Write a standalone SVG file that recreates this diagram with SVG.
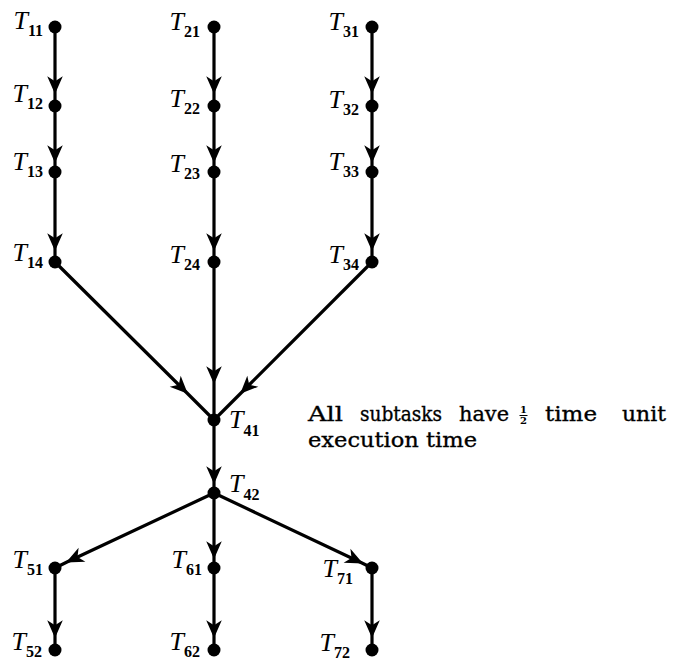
<svg xmlns="http://www.w3.org/2000/svg" width="681" height="662" viewBox="0 0 681 662">
<defs>
<marker id="ah" markerUnits="userSpaceOnUse" markerWidth="20" markerHeight="20" refX="0" refY="0" viewBox="-16 -8 18 16" orient="auto" overflow="visible">
<path d="M1,0 L-15,-7 L-10.5,0 L-15,7 Z" fill="#000"/>
</marker>
<style>
.e{fill:none;stroke:#000;stroke-width:3.2;marker-mid:url(#ah)}
.n{fill:#000}
.l{font-family:"Liberation Serif","Times New Roman",serif;font-style:italic;font-size:26px;fill:#000}
.s{font-style:normal;font-weight:bold;font-size:16px}
.p{font-family:"DejaVu Serif","Liberation Serif",serif;font-size:21px;fill:#000;stroke:#000;stroke-width:0.35}
.f{font-family:"DejaVu Serif","Liberation Serif",serif;font-size:10px;font-weight:bold;fill:#000}
</style>
</defs>
<rect width="681" height="662" fill="#fff"/>
<g id="connectors">
<path class="e" d="M55,27 L55,93 L55,106"/>
<path class="e" d="M55,106 L55,162 L55,172"/>
<path class="e" d="M55,172 L55,250 L55,262"/>
<path class="e" d="M214,27 L214,93 L214,106"/>
<path class="e" d="M214,106 L214,162 L214,172"/>
<path class="e" d="M214,172 L214,250 L214,262"/>
<path class="e" d="M372,27 L372,93 L372,106"/>
<path class="e" d="M372,106 L372,162 L372,172"/>
<path class="e" d="M372,172 L372,250 L372,262"/>
<path class="e" d="M55,262 L187,393 L214,420"/>
<path class="e" d="M214,262 L214,383 L214,420"/>
<path class="e" d="M372,262 L241,393 L214,420"/>
<path class="e" d="M214,420 L214,483 L214,493"/>
<path class="e" d="M214,493 L67,562 L55,568"/>
<path class="e" d="M214,493 L214,558 L214,568"/>
<path class="e" d="M214,493 L362,563 L372,568"/>
<path class="e" d="M55,568 L55,637 L55,650"/>
<path class="e" d="M214,568 L214,637 L214,650"/>
<path class="e" d="M372,568 L372,637 L372,650"/>
</g>
<g id="T11"><circle class="n" cx="55" cy="27" r="6.5"/><text class="l" x="43" y="29" text-anchor="end">T<tspan class="s" dy="7">11</tspan></text></g>
<g id="T12"><circle class="n" cx="55" cy="106" r="6.5"/><text class="l" x="43" y="102" text-anchor="end">T<tspan class="s" dy="7">12</tspan></text></g>
<g id="T13"><circle class="n" cx="55" cy="172" r="6.5"/><text class="l" x="43" y="170" text-anchor="end">T<tspan class="s" dy="7">13</tspan></text></g>
<g id="T14"><circle class="n" cx="55" cy="262" r="6.5"/><text class="l" x="43" y="261" text-anchor="end">T<tspan class="s" dy="7">14</tspan></text></g>
<g id="T21"><circle class="n" cx="214" cy="27" r="6.5"/><text class="l" x="200" y="30" text-anchor="end">T<tspan class="s" dy="7">21</tspan></text></g>
<g id="T22"><circle class="n" cx="214" cy="106" r="6.5"/><text class="l" x="200" y="107" text-anchor="end">T<tspan class="s" dy="7">22</tspan></text></g>
<g id="T23"><circle class="n" cx="214" cy="172" r="6.5"/><text class="l" x="200" y="172" text-anchor="end">T<tspan class="s" dy="7">23</tspan></text></g>
<g id="T24"><circle class="n" cx="214" cy="262" r="6.5"/><text class="l" x="200" y="263" text-anchor="end">T<tspan class="s" dy="7">24</tspan></text></g>
<g id="T31"><circle class="n" cx="372" cy="27" r="6.5"/><text class="l" x="359" y="30" text-anchor="end">T<tspan class="s" dy="7">31</tspan></text></g>
<g id="T32"><circle class="n" cx="372" cy="106" r="6.5"/><text class="l" x="359" y="108" text-anchor="end">T<tspan class="s" dy="7">32</tspan></text></g>
<g id="T33"><circle class="n" cx="372" cy="172" r="6.5"/><text class="l" x="359" y="170" text-anchor="end">T<tspan class="s" dy="7">33</tspan></text></g>
<g id="T34"><circle class="n" cx="372" cy="262" r="6.5"/><text class="l" x="359" y="263" text-anchor="end">T<tspan class="s" dy="7">34</tspan></text></g>
<g id="T41"><circle class="n" cx="214" cy="420" r="6.5"/><text class="l" x="229" y="428">T<tspan class="s" dy="8">41</tspan></text></g>
<g id="T42"><circle class="n" cx="214" cy="493" r="6.5"/><text class="l" x="229" y="492">T<tspan class="s" dy="8">42</tspan></text></g>
<g id="T51"><circle class="n" cx="55" cy="568" r="6.5"/><text class="l" x="43" y="568" text-anchor="end">T<tspan class="s" dy="7">51</tspan></text></g>
<g id="T52"><circle class="n" cx="55" cy="650" r="6.5"/><text class="l" x="42" y="650" text-anchor="end">T<tspan class="s" dy="7">52</tspan></text></g>
<g id="T61"><circle class="n" cx="214" cy="568" r="6.5"/><text class="l" x="202" y="568" text-anchor="end">T<tspan class="s" dy="7">61</tspan></text></g>
<g id="T62"><circle class="n" cx="214" cy="650" r="6.5"/><text class="l" x="200" y="650" text-anchor="end">T<tspan class="s" dy="7">62</tspan></text></g>
<g id="T71"><circle class="n" cx="372" cy="568" r="6.5"/><text class="l" x="353" y="577" text-anchor="end">T<tspan class="s" dy="7">71</tspan></text></g>
<g id="T72"><circle class="n" cx="372" cy="650" r="6.5"/><text class="l" x="350" y="651" text-anchor="end">T<tspan class="s" dy="7">72</tspan></text></g>
<g id="note">
<text class="p" x="308" y="421" textLength="35" lengthAdjust="spacingAndGlyphs">All</text>
<text class="p" x="360" y="421" textLength="82" lengthAdjust="spacingAndGlyphs">subtasks</text>
<text class="p" x="459" y="421" textLength="50" lengthAdjust="spacingAndGlyphs">have</text>
<text class="f" x="523.5" y="413" text-anchor="middle">1</text>
<line x1="519.5" y1="415.5" x2="527.5" y2="415.5" stroke="#000" stroke-width="1"/>
<text class="f" x="523.5" y="424" text-anchor="middle">2</text>
<text class="p" x="545" y="421" textLength="52" lengthAdjust="spacingAndGlyphs">time</text>
<text class="p" x="622" y="421" textLength="44" lengthAdjust="spacingAndGlyphs">unit</text>
<text class="p" x="308" y="447" textLength="169" lengthAdjust="spacingAndGlyphs">execution time</text>
</g>
</svg>
